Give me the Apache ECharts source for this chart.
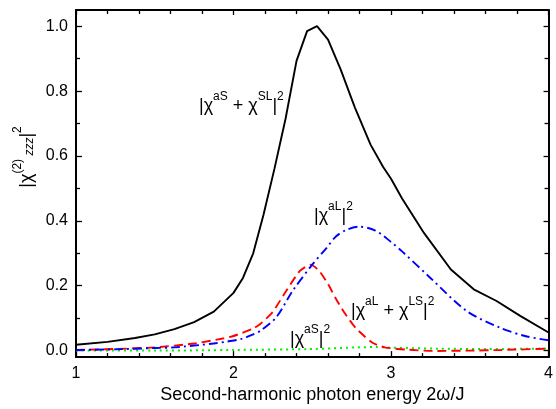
<!DOCTYPE html>
<html>
<head>
<meta charset="utf-8">
<script src="https://cdn.jsdelivr.net/npm/echarts@6/dist/echarts.min.js"></script>
<style>
html,body{margin:0;padding:0;background:#fff;}
#chart{width:556px;height:409px;}
</style>
</head>
<body>
<div id="chart"></div>
<script>
// ---- Data ----
const xTitle = 'Second-harmonic photon energy 2ω/J';
const yTickValues = [0, 0.2, 0.4, 0.6, 0.8, 1.0];
const yMinorTickValues = [0.1, 0.3, 0.5, 0.7, 0.9];

// |χ^aS + χ^SL|^2  (black solid)
const blackX = [1.0, 1.2, 1.375, 1.5, 1.625, 1.75, 1.875, 2.0, 2.06, 2.125, 2.19, 2.26, 2.33, 2.40, 2.467, 2.53, 2.60, 2.68, 2.77, 2.87, 2.95, 3.0, 3.07, 3.21, 3.38, 3.525, 3.67, 3.82, 4.0];
const blackY = [0.018, 0.027, 0.039, 0.050, 0.066, 0.088, 0.120, 0.178, 0.224, 0.300, 0.418, 0.561, 0.714, 0.893, 0.985, 1.000, 0.959, 0.867, 0.750, 0.635, 0.566, 0.530, 0.469, 0.362, 0.250, 0.189, 0.153, 0.107, 0.056];

// red dashed
const redX = [1.0, 1.25, 1.5, 1.75, 1.94, 2.0, 2.125, 2.17, 2.25, 2.32, 2.42, 2.49, 2.545, 2.60, 2.65, 2.70, 2.775, 2.88, 2.96, 3.1, 3.275, 3.5, 3.7, 4.0];
const redY = [0.002, 0.005, 0.010, 0.022, 0.038, 0.045, 0.068, 0.082, 0.120, 0.173, 0.245, 0.265, 0.245, 0.205, 0.160, 0.120, 0.070, 0.025, 0.010, 0.003, -0.001, 0.000, 0.002, 0.006];

// blue dash-dot
const blueX = [1.0, 1.25, 1.5, 1.625, 1.875, 1.96, 2.05, 2.125, 2.17, 2.27, 2.375, 2.50, 2.59, 2.65, 2.72, 2.80, 2.90, 3.0, 3.07, 3.25, 3.48, 3.69, 3.85, 4.0];
const blueY = [0.002, 0.004, 0.008, 0.010, 0.022, 0.028, 0.036, 0.050, 0.061, 0.102, 0.184, 0.265, 0.316, 0.352, 0.373, 0.382, 0.370, 0.335, 0.306, 0.224, 0.122, 0.071, 0.045, 0.032];

// green dotted
const greenX = [1.0, 1.5, 2.0, 2.5, 2.8, 2.9, 3.0, 3.3, 3.6, 4.0];
const greenY = [0.000, 0.000, 0.002, 0.005, 0.010, 0.011, 0.009, 0.006, 0.005, 0.006];

function zip(xs, ys){ return xs.map((x,i)=>[x, ys[i]]); }

const chart = echarts.init(document.getElementById('chart'), null, {renderer:'canvas'});
const FONT = 'Liberation Sans, Arial, sans-serif';
const axisCol = '#000';
const lw = 2;

const richLabel = {
  b: {fontSize: 18, fontFamily: FONT, color: '#000', lineHeight: 24, verticalAlign: 'bottom'},
  s: {fontSize: 12, fontFamily: FONT, color: '#000', lineHeight: 16, verticalAlign: 'top'},
  sub: {fontSize: 12, fontFamily: FONT, fontStyle: 'italic', color: '#000', lineHeight: 12, verticalAlign: 'bottom'}
};

function mkY(pos, showLabel, vals, len, line){
  return {
    type: 'value', position: pos, min: -0.02, max: 1.05,
    axisLine: {show: line, onZero: false, lineStyle: {color: axisCol, width: lw}},
    axisTick: {show: true, inside: true, length: len, customValues: vals, lineStyle: {color: axisCol, width: 1.3}},
    axisLabel: {show: showLabel, customValues: vals, fontSize: 16, fontFamily: FONT, color: '#000', margin: 8,
      formatter: v => v.toFixed(1)},
    splitLine: {show: false}
  };
}

const option = {
  animation: false,
  backgroundColor: '#fff',
  grid: {left: 76, right: 1, top: 10, bottom: 49, containLabel: false},
  xAxis: [
    {type: 'value', position: 'bottom', min: 1, max: 4, interval: 1,
     axisLine: {onZero: false, lineStyle: {color: axisCol, width: lw}},
     axisTick: {inside: true, length: 6, lineStyle: {color: axisCol, width: 1.3}},
     minorTick: {show: true, splitNumber: 5, length: 4, lineStyle: {color: axisCol, width: 1.3}},
     axisLabel: {fontSize: 16, fontFamily: FONT, color: '#000', margin: 8},
     splitLine: {show: false},
     name: xTitle, nameLocation: 'middle', nameGap: 27,
     nameTextStyle: {fontSize: 18, fontFamily: FONT, color: '#000'}},
    {type: 'value', position: 'top', min: 1, max: 4, interval: 1,
     axisLine: {onZero: false, lineStyle: {color: axisCol, width: lw}},
     axisTick: {inside: true, length: 5, lineStyle: {color: axisCol, width: 1.3}},
     minorTick: {show: true, splitNumber: 5, length: 4, lineStyle: {color: axisCol, width: 1.3}},
     axisLabel: {show: false}, splitLine: {show: false}}
  ],
  yAxis: [
    mkY('left', true, yTickValues, 6, true),
    mkY('left', false, yMinorTickValues, 4, false),
    mkY('right', false, yTickValues, 5, true),
    mkY('right', false, yMinorTickValues, 4, false)
  ],
  series: [
    {type: 'line', data: zip(blackX, blackY), showSymbol: false, symbol: 'none',
     lineStyle: {color: '#000', width: 1.9}, z: 5},
    {type: 'line', data: zip(blueX, blueY), showSymbol: false, symbol: 'none', smooth: 0.3,
     lineStyle: {color: '#0000ff', width: 1.9, type: [9, 4, 2, 4]}, z: 4},
    {type: 'line', data: zip(redX, redY), showSymbol: false, symbol: 'none', smooth: 0.2,
     lineStyle: {color: '#ff0000', width: 1.9, type: [9, 5]}, z: 3},
    {type: 'line', data: zip(greenX, greenY), showSymbol: false, symbol: 'none', smooth: 0.3,
     lineStyle: {color: '#00f000', width: 2, type: [2, 4]}, z: 2}
  ],
  graphic: [
    {type: 'text', left: 199, top: 91, style: {text: '{b||χ}{s|aS}{b| + χ}{s|SL}{b||}{s|2}', rich: richLabel}},
    {type: 'text', left: 314, top: 201, style: {text: '{b||χ}{s|aL}{b||}{s|2}', rich: richLabel}},
    {type: 'text', left: 351, top: 296, style: {text: '{b||χ}{s|aL}{b| + χ}{s|LS}{b||}{s|2}', rich: richLabel}},
    {type: 'text', left: 290, top: 324, style: {text: '{b||χ}{s|aS}{b||}{s|2}', rich: richLabel}},
    {type: 'text', x: 24, y: 157, rotation: Math.PI / 2,
     style: {text: '{b||χ}{s|(2)}{sub| zzz}{b||}{s|2}', rich: richLabel, align: 'center', verticalAlign: 'middle'}}
  ]
};
chart.setOption(option);
</script>
</body>
</html>
